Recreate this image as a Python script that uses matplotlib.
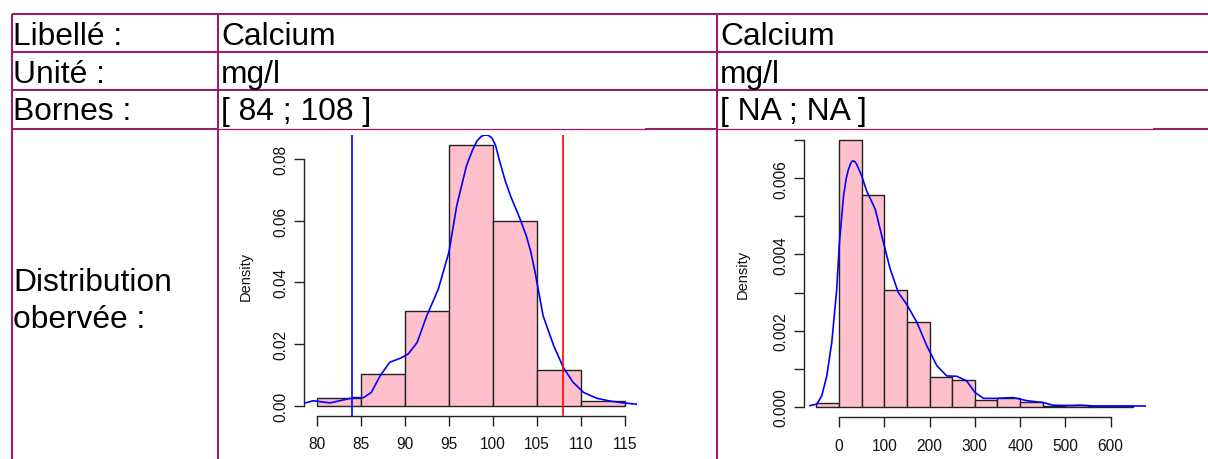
import numpy as np
import matplotlib
matplotlib.use("Agg")
import matplotlib.pyplot as plt
from matplotlib.ticker import FixedLocator, FixedFormatter

plt.rcParams['font.family'] = ['Liberation Sans', 'DejaVu Sans']

# ---------------- data ----------------
row_labels = ["Libellé :", "Unité :", "Bornes :", "Distribution\nobervée :"]
col1_values = ["Calcium", "mg/l", "[ 84 ; 108 ]"]
col2_values = ["Calcium", "mg/l", "[ NA ; NA ]"]

left_breaks = [80, 85, 90, 95, 100, 105, 110, 115]
left_density = [0.0026, 0.0102, 0.0307, 0.0845, 0.0599, 0.0117, 0.0015]
left_kde_x = [78.7, 79.6, 80.4, 81.5, 82.6, 84.2, 85.3, 86.2, 87.2, 88.3, 89.5,
              90.4, 91.4, 92.5, 93.8, 95.0, 95.9, 97.0, 97.7, 98.2, 98.7, 99.1,
              99.5, 99.9, 100.3, 100.8, 101.4, 102.0, 103.1, 103.8, 104.3, 104.8,
              105.7, 106.9, 108.0, 109.1, 110.3, 111.8, 113.3, 114.8, 116.3]
left_kde_y = [0.0009, 0.0016, 0.0013, 0.0009, 0.0016, 0.0026, 0.0026, 0.0043,
              0.0097, 0.0141, 0.0154, 0.0168, 0.0205, 0.0292, 0.0378, 0.0497,
              0.0649, 0.0778, 0.0830, 0.0859, 0.0874, 0.0878, 0.0877, 0.0868,
              0.0845, 0.0790, 0.0730, 0.0681, 0.0605, 0.0551, 0.0500, 0.0432,
              0.0292, 0.0195, 0.0124, 0.0076, 0.0043, 0.0024, 0.0015, 0.0009,
              0.0005]
left_lower = 84
left_upper = 108
left_xticks = [80, 85, 90, 95, 100, 105, 110, 115]
left_yticks = [0.00, 0.02, 0.04, 0.06, 0.08]
left_ylabels = ["0.00", "0.02", "0.04", "0.06", "0.08"]

right_breaks = [-50, 0, 50, 100, 150, 200, 250, 300, 350, 400, 450, 500, 550, 600, 650]
right_density = [0.00011, 0.00700, 0.00556, 0.00306, 0.00223, 0.00079, 0.00071,
                 0.00018, 0.00024, 0.00013, 0.00003, 0.00004, 0.00001, 0.00001]
right_kde_x = [-64, -49, -38, -27, -16, -5, 1, 10, 16, 21, 26, 30, 35, 39, 50, 61,
               80, 98, 113, 131, 149, 172, 194, 216, 238, 260, 282, 300, 319, 348,
               385, 415, 451, 473, 510, 532, 562, 680]
right_kde_y = [0.00003, 0.00007, 0.00029, 0.00081, 0.00169, 0.00309, 0.00432,
               0.00554, 0.00600, 0.00624, 0.00640, 0.00646, 0.00644, 0.00637,
               0.00607, 0.00567, 0.00519, 0.00432, 0.00362, 0.00300, 0.00270,
               0.00222, 0.00160, 0.00108, 0.00081, 0.00080, 0.00068, 0.00038,
               0.00022, 0.00022, 0.00024, 0.00016, 0.00011, 0.00004, 0.00003,
               0.00004, 0.00002, 0.00002]
right_xticks = [0, 100, 200, 300, 400, 500, 600]
right_yticks = [0.000, 0.001, 0.002, 0.003, 0.004, 0.005, 0.006, 0.007]
right_ylabels = ["0.000", "", "0.002", "", "0.004", "", "0.006", ""]

# ---------------- figure ----------------
W, H = 1208, 460
fig = plt.figure(figsize=(W / 100, H / 100), dpi=100)
fig.patch.set_facecolor("white")

border = "#991E66"
bg = fig.add_axes([0, 0, 1, 1])
bg.set_xlim(0, W)
bg.set_ylim(H, 0)
bg.axis("off")

lw_thick = 1.5
for y in [15, 53, 91]:
    bg.plot([12, W], [y, y], color=border, lw=lw_thick, solid_capstyle="butt")
for x0, x1 in [(12, 218), (645, 717), (1153, W)]:
    bg.plot([x0, x1], [129.7, 129.7], color=border, lw=lw_thick, solid_capstyle="butt")
for x0, x1 in [(218, 645), (717, 1153)]:
    bg.plot([x0, x1], [129.7, 129.7], color=border, lw=0.9, solid_capstyle="butt")
for x in [12, 218, 717]:
    bg.plot([x, x], [15, H], color=border, lw=lw_thick, solid_capstyle="butt")

fs = 22.9
baselines = [45, 82.7, 120]
for i, lab in enumerate(row_labels[:3]):
    bg.text(13, baselines[i], lab, fontsize=fs, va="baseline", ha="left", color="black")
    bg.text(221, baselines[i], col1_values[i], fontsize=fs, va="baseline", ha="left", color="black")
    bg.text(720, baselines[i], col2_values[i], fontsize=fs, va="baseline", ha="left", color="black")
bg.text(13, 328, row_labels[3], fontsize=fs, va="baseline", ha="left", color="black",
        linespacing=1.3)

axcol = "#222222"
tfs = 11.2


def r_hist(ax, breaks, dens, kx, ky, xticks, yticks, ylabels, label_x):
    breaks = np.asarray(breaks, dtype=float)
    ax.bar(breaks[:-1], dens, width=np.diff(breaks), align="edge",
           color="pink", edgecolor=axcol, linewidth=1.0, zorder=2)
    ax.plot(kx, ky, color="blue", lw=1.2, zorder=3)
    xr = breaks[-1] - breaks[0]
    ax.set_xlim(breaks[0] - 0.04 * xr, breaks[-1] + 0.04 * xr)
    ym = max(dens)
    ax.set_ylim(-0.04 * ym, 1.04 * ym)
    ax.set_facecolor("none")
    for s in ["top", "right"]:
        ax.spines[s].set_visible(False)
    ax.spines["left"].set_bounds(yticks[0], yticks[-1])
    ax.spines["bottom"].set_bounds(xticks[0], xticks[-1])
    for s in ["left", "bottom"]:
        ax.spines[s].set_color(axcol)
        ax.spines[s].set_linewidth(1.0)
    ax.xaxis.set_major_locator(FixedLocator(xticks))
    ax.xaxis.set_major_formatter(FixedFormatter([str(t) for t in xticks]))
    ax.yaxis.set_major_locator(FixedLocator(yticks))
    ax.yaxis.set_major_formatter(FixedFormatter(ylabels))
    ax.tick_params(axis="both", length=7, width=1.0, color=axcol,
                   labelsize=tfs, labelcolor="#111111")
    ax.tick_params(axis="x", pad=7.5)
    ax.tick_params(axis="y", pad=4.2, labelrotation=90)
    for t in ax.get_yticklabels():
        t.set_verticalalignment("center")
    ax.set_ylabel("Density", fontsize=10.5, color="#111111")
    ax.yaxis.set_label_coords(label_x, 0.5)
    ax.yaxis.label.set_verticalalignment("center")


axL = fig.add_axes([304.4 / W, (H - 417.1) / H, (637.3 - 304.4) / W, (417.1 - 135.8) / H])
r_hist(axL, left_breaks, left_density, left_kde_x, left_kde_y,
       left_xticks, left_yticks, left_ylabels, -0.175)
axL.axvline(left_lower, color="blue", lw=1.2, zorder=4)
axL.axvline(left_upper, color="red", lw=1.2, zorder=4)

axR = fig.add_axes([803.7 / W, (H - 418.4) / H, (1145.9 - 803.7) / W, (418.4 - 130.6) / H])
r_hist(axR, right_breaks, right_density, right_kde_x, right_kde_y,
       right_xticks, right_yticks, right_ylabels, -0.177)

fig.savefig("out.png", dpi=100)
